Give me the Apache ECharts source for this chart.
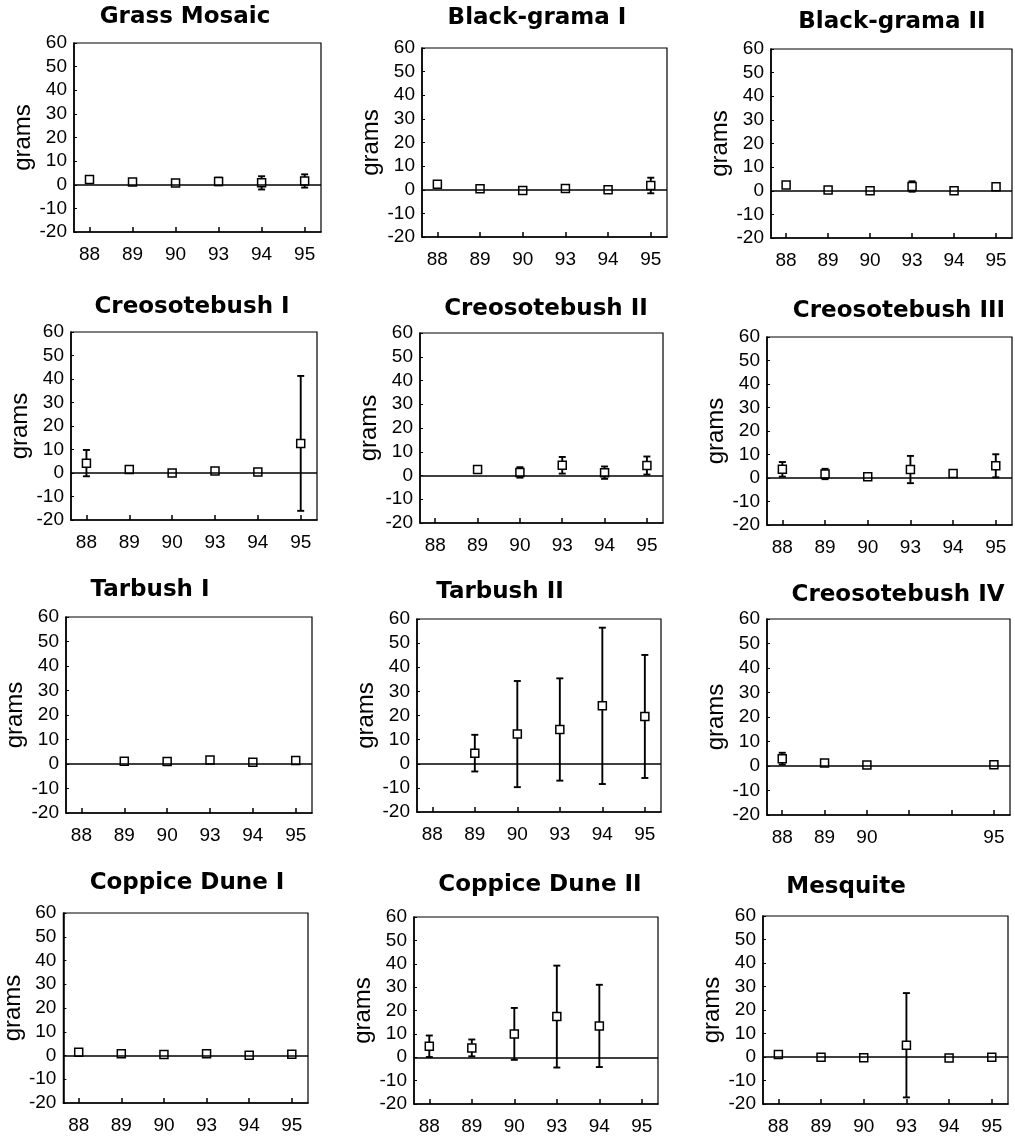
<!DOCTYPE html>
<html><head><meta charset="utf-8">
<script src="https://cdn.jsdelivr.net/npm/echarts@6.0.0/dist/echarts.min.js"></script>
<style>html,body{margin:0;padding:0;background:#fff}#c{width:1015px;height:1136px}</style>
</head><body><div id="c"></div>
<script>
// ---- data ----
const yearLabels = ['88','89','90','93','94','95'];
const yearLabelsCreoIV = ['88','89','90','','','95'];
const panelTitles = ['Grass Mosaic','Black-grama I','Black-grama II','Creosotebush I','Creosotebush II','Creosotebush III','Tarbush I','Tarbush II','Creosotebush IV','Coppice Dune I','Coppice Dune II','Mesquite'];

const grassMosaicMean = [2.2, 1.2, 0.7, 1.4, 0.8, 1.6];
const grassMosaicErr  = [1.4, 1.0, 0.7, 1.6, 2.8, 2.8];
const blackGramaIMean = [2.3, 0.4, -0.3, 0.5, 0.0, 1.8];
const blackGramaIErr  = [1.1, 0.8, 0.7, 0.8, 0.8, 3.3];
const blackGramaIIMean = [2.4, 0.3, 0.0, 1.8, 0.0, 1.7];
const blackGramaIIErr  = [1.0, 0.8, 1.0, 2.2, 0.7, 1.3];
const creosoteIMean = [4.2, 1.5, 0.0, 0.8, 0.4, 12.6];
const creosoteIErr  = [5.6, 1.2, 0.7, 0.7, 0.6, 28.7];
const creosoteIIMean = [null, 2.5, 1.3, 4.3, 1.2, 4.2];
const creosoteIIErr  = [null, 1.3, 2.2, 3.5, 2.6, 3.8];
const creosoteIIIMean = [3.7, 1.7, 0.5, 3.6, 1.9, 5.2];
const creosoteIIIErr  = [3.1, 2.2, 0.7, 5.8, 1.0, 4.9];
const tarbushIMean = [null, 1.1, 1.0, 1.6, 0.7, 1.4];
const tarbushIErr  = [null, 1.2, 1.2, 1.2, 1.0, 1.2];
const tarbushIIMean = [null, 4.4, 12.3, 14.2, 24.0, 19.6];
const tarbushIIErr  = [null, 7.6, 22.0, 21.2, 32.4, 25.5];
const creosoteIVMean = [3.0, 1.2, 0.4, null, null, 0.5];
const creosoteIVErr  = [2.4, 1.0, 0.8, null, null, 0.8];
const coppiceIMean = [1.4, 0.7, 0.4, 0.7, 0.1, 0.5];
const coppiceIErr  = [0.8, 0.8, 0.8, 0.9, 0.8, 0.8];
const coppiceIIMean = [4.7, 4.0, 10.0, 17.4, 13.4, null];
const coppiceIIErr  = [4.6, 3.6, 11.1, 21.8, 17.6, null];
const mesquiteMean = [1.1, -0.1, -0.3, 5.0, -0.4, -0.1];
const mesquiteErr  = [1.0, 0.6, 0.6, 22.2, 0.4, 0.6];
const yTicks = [-20, 60, 10]; // min, max, step

const panelData = [
  [grassMosaicMean, grassMosaicErr, yearLabels],
  [blackGramaIMean, blackGramaIErr, yearLabels],
  [blackGramaIIMean, blackGramaIIErr, yearLabels],
  [creosoteIMean, creosoteIErr, yearLabels],
  [creosoteIIMean, creosoteIIErr, yearLabels],
  [creosoteIIIMean, creosoteIIIErr, yearLabels],
  [tarbushIMean, tarbushIErr, yearLabels],
  [tarbushIIMean, tarbushIIErr, yearLabels],
  [creosoteIVMean, creosoteIVErr, yearLabelsCreoIV],
  [coppiceIMean, coppiceIErr, yearLabels],
  [coppiceIIMean, coppiceIIErr, yearLabels],
  [mesquiteMean, mesquiteErr, yearLabels]
];

// ---- layout (plot rects: x1, y1, x2, y2; title centre) ----
const rects = [
  [74,43,321,232],[422,48,667,237],[771,49,1012,238],
  [71,332,317,520],[420,333,663,523],[767,337,1012,525],
  [66,617,312,813],[417,619,661,812],[767,619,1010,815],
  [62,913,308,1103],[414,917,658,1105],[763,916,1008,1107]
];
const titlePos = [
  [185,17],[537,18],[892,22],
  [192,307],[546,309],[899,311],
  [150,590],[500,592],[898,595],
  [187,883],[540,885],[846,887]
];

const grids = [], xAxes = [], yAxes = [], series = [], graphics = [];
const black = '#000';
const sansFont = 'Liberation Sans, Arial, sans-serif';
panelData.forEach((pd, i) => {
  const [means, errs, labels] = pd;
  const r = rects[i];
  grids.push({left:r[0], top:r[1], width:r[2]-r[0], height:r[3]-r[1], show:true, borderColor:black, borderWidth:1.2, backgroundColor:'transparent'});
  xAxes.push({
    type:'value', gridIndex:i, min:-0.36, max:5.38,
    splitLine:{show:false},
    axisLine:{show:true, onZero:false, lineStyle:{color:black, width:1.6}},
    axisTick:{show:true, inside:true, length:5, customValues:[0,1,2,3,4,5], lineStyle:{color:black, width:1.5}},
    axisLabel:{show:true, customValues:[0,1,2,3,4,5], formatter:(v)=>labels[Math.round(v)], color:black, fontSize:19, fontFamily:sansFont, margin:13}
  });
  yAxes.push({
    type:'value', gridIndex:i, min:yTicks[0], max:yTicks[1], interval:yTicks[2],
    name:'grams', nameLocation:'middle', nameGap:37,
    nameTextStyle:{fontSize:24, fontFamily:sansFont, color:black},
    splitLine:{show:false},
    axisLine:{show:true, onZero:false, lineStyle:{color:black, width:1.6}},
    axisTick:{show:true, inside:true, length:3, lineStyle:{color:black, width:1}},
    axisLabel:{color:black, fontSize:19, fontFamily:sansFont, margin:7}
  });
  const barData = [], ptData = [];
  means.forEach((m, j) => {
    if (m == null) return;
    barData.push([j, m - errs[j], m + errs[j]]);
    ptData.push([j, m]);
  });
  series.push({
    type:'custom', xAxisIndex:i, yAxisIndex:i, silent:true, z:2,
    encode:{x:0, y:[1,2]},
    renderItem:(params, api) => {
      const x = api.value(0);
      const lo = api.coord([x, api.value(1)]);
      const hi = api.coord([x, api.value(2)]);
      const c = 3.5;
      const st = {stroke:black, lineWidth:1.9};
      return {type:'group', children:[
        {type:'line', shape:{x1:lo[0], y1:lo[1], x2:hi[0], y2:hi[1]}, style:st},
        {type:'line', shape:{x1:lo[0]-c, y1:lo[1], x2:lo[0]+c, y2:lo[1]}, style:st},
        {type:'line', shape:{x1:hi[0]-c, y1:hi[1], x2:hi[0]+c, y2:hi[1]}, style:st}
      ]};
    },
    data:barData
  });
  series.push({
    type:'scatter', xAxisIndex:i, yAxisIndex:i, silent:true, z:3,
    symbol:'rect', symbolSize:8,
    itemStyle:{color:'#fff', borderColor:black, borderWidth:1.5, opacity:1},
    data:ptData,
    markLine:{silent:true, symbol:'none', label:{show:false}, animation:false,
      lineStyle:{color:black, width:1.6, type:'solid'}, data:[{yAxis:0}]}
  });
  graphics.push({type:'text', x:titlePos[i][0], y:titlePos[i][1],
    style:{text:panelTitles[i], fill:black, font:'bold 23px "DejaVu Sans", sans-serif', textAlign:'center', textVerticalAlign:'middle'}});
});

const chart = echarts.init(document.getElementById('c'), null, {renderer:'canvas'});
chart.setOption({
  animation:false,
  backgroundColor:'#fff',
  grid:grids, xAxis:xAxes, yAxis:yAxes, series:series,
  graphic:graphics
});
</script>
</body></html>
